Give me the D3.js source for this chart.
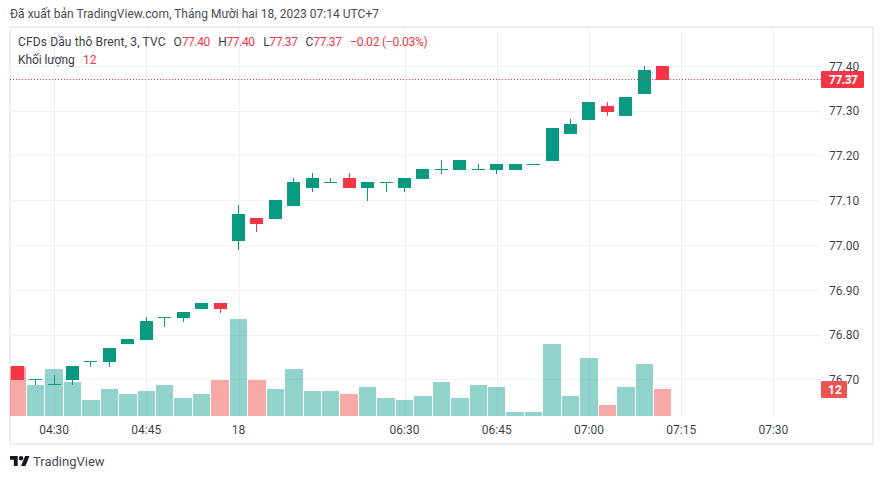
<!DOCTYPE html>
<html><head><meta charset="utf-8">
<script src="https://cdn.jsdelivr.net/npm/d3@7/dist/d3.min.js"></script>
<style>html,body{margin:0;padding:0;background:#fff}svg{display:block}text{font-family:Roboto,sans-serif;font-size:12px}</style>
</head><body><svg id="c" width="883" height="479"></svg>
<script>
const opens  = [76.73,76.70,76.69,76.70,76.74,76.74,76.78,76.79,76.84,76.84,76.86,76.87,77.01,77.06,77.06,77.09,77.13,77.14,77.15,77.13,77.14,77.13,77.15,77.17,77.17,77.17,77.17,77.17,77.18,77.19,77.25,77.28,77.31,77.29,77.34,77.40];
const highs  = [76.73,76.70,76.71,76.73,76.74,76.77,76.79,76.84,76.84,76.85,76.87,76.87,77.09,77.06,77.10,77.15,77.16,77.15,77.16,77.14,77.14,77.15,77.17,77.19,77.19,77.18,77.18,77.18,77.18,77.26,77.28,77.32,77.32,77.33,77.40,77.40];
const lows   = [76.70,76.69,76.69,76.69,76.73,76.73,76.78,76.79,76.82,76.83,76.86,76.85,76.99,77.03,77.06,77.09,77.12,77.14,77.13,77.10,77.12,77.12,77.15,77.16,77.17,77.17,77.16,77.17,77.18,77.19,77.25,77.28,77.29,77.29,77.34,77.37];
const closes = [76.70,76.70,76.69,76.73,76.74,76.77,76.79,76.83,76.84,76.85,76.87,76.86,77.07,77.05,77.10,77.14,77.15,77.14,77.13,77.14,77.14,77.15,77.17,77.17,77.19,77.17,77.18,77.18,77.18,77.26,77.27,77.32,77.30,77.33,77.39,77.37];
const volumes = [22,14,21,15,7,12,10,11,14,8,10,16,43,16,12,21,11,11,10,13,8,7,9,15,8,14,13,2,2,32,9,26,5,13,23,12];
const priceTicks = [76.70,76.80,76.90,77.00,77.10,77.20,77.30,77.40];
const timeTickIndex = [2,7,12,21,26,31,36,41];
const timeTickLabels = ["04:30","04:45","18","06:30","06:45","07:00","07:15","07:30"];
const lastPrice = 77.37, lastVolume = 12;
const publishedText = "Đã xuất bản TradingView.com, Tháng Mười hai 18, 2023 07:14 UTC+7";
const titleText = "CFDs Dầu thô Brent, 3, TVC";
const volumeLabel = "Khối lượng";
const ohlcLabels = [["O","77.40",173.5,181.7],["H","77.40",218.3,226.5],["L","77.37",263.3,269.3],["C","77.37",305.5,313.3]];
const changeText = "−0.02 (−0.03%)";

const UP="#089981",DOWN="#f23645",VUP="rgba(38,166,154,.5)",VDOWN="rgba(239,83,80,.5)",GRID="#f0f1f4",FRAME="#eeeff5",TXT="#131722";
const L=10,R=821,T=28,B=416;
const svg=d3.select("#c");
const x=d3.scaleLinear().domain([0,41]).range([17.7,773.9]);
const y=d3.scaleLinear().domain([76.70,77.40]).range([379.8,66.2]);
const v=d3.scaleLinear().domain([0,43]).range([416,319.25]);

svg.append("rect").attr("x",10).attr("y",27).attr("width",863).attr("height",417).attr("fill","none").attr("stroke",FRAME).attr("stroke-width",2);

const pane=svg.append("g").attr("shape-rendering","crispEdges");
pane.append("g").selectAll("line").data(priceTicks).join("line")
 .attr("x1",L).attr("x2",R).attr("y1",d=>Math.floor(y(d))+.5).attr("y2",d=>Math.floor(y(d))+.5).attr("stroke",GRID);
pane.append("g").selectAll("line").data(timeTickIndex).join("line")
 .attr("x1",d=>Math.floor(x(d))+.5).attr("x2",d=>Math.floor(x(d))+.5).attr("y1",T).attr("y2",B).attr("stroke",GRID);

const idx=d3.range(opens.length);
pane.append("g").selectAll("rect").data(idx).join("rect")
 .attr("x",i=>Math.max(L,Math.round(x(i)-9.2)))
 .attr("width",i=>Math.round(x(i)+9.2)-1-Math.max(L,Math.round(x(i)-9.2)))
 .attr("y",i=>Math.round(v(volumes[i])))
 .attr("height",i=>B-Math.round(v(volumes[i])))
 .attr("fill",i=>closes[i]>=opens[i]?VUP:VDOWN);

const col=i=>closes[i]>=opens[i]?UP:DOWN;
const bl=i=>Math.floor(x(i)-6.5);
pane.append("g").selectAll("rect").data(idx).join("rect")
 .attr("x",i=>bl(i)+6).attr("width",1)
 .attr("y",i=>Math.floor(y(highs[i]))).attr("height",i=>Math.max(1,Math.ceil(y(lows[i]))-Math.floor(y(highs[i]))))
 .attr("fill",col);
pane.append("g").selectAll("rect").data(idx).join("rect")
 .attr("x",bl).attr("width",13)
 .attr("y",i=>Math.floor(y(Math.max(opens[i],closes[i]))))
 .attr("height",i=>opens[i]===closes[i]?1:Math.ceil(y(Math.min(opens[i],closes[i])))-Math.floor(y(Math.max(opens[i],closes[i]))))
 .attr("fill",col);

const ly=Math.floor(y(lastPrice))+.5;
pane.append("line").attr("x1",L).attr("x2",R).attr("y1",ly).attr("y2",ly).attr("stroke",DOWN).attr("stroke-dasharray","1 2");

// axes
const yAxis=d3.axisRight(y).tickValues(priceTicks).tickFormat(d3.format(".2f")).tickSize(0).tickPadding(8);
const ga=svg.append("g").attr("transform",`translate(${R},0)`).call(yAxis);
ga.select(".domain").remove();
ga.selectAll("text").attr("fill",TXT).style("font-size","12px").attr("fill-opacity",.85);
const xAxis=d3.axisBottom(x).tickValues(timeTickIndex).tickFormat((d,i)=>timeTickLabels[i]).tickSize(0).tickPadding(9);
const gx=svg.append("g").attr("transform",`translate(-1,${B})`).call(xAxis);
gx.select(".domain").remove();
gx.selectAll("text").attr("fill",TXT).style("font-size","12px").attr("fill-opacity",.85);

// badges
svg.append("rect").attr("x",R).attr("y",71).attr("width",43).attr("height",17).attr("rx",1).attr("fill",DOWN);
svg.append("text").attr("x",829).attr("y",84).attr("textLength",29).attr("fill","#fff").attr("font-weight",700).text(lastPrice.toFixed(2));
const vy=Math.round(v(lastVolume));
svg.append("rect").attr("x",R).attr("y",vy-8).attr("width",26).attr("height",17).attr("rx",1).attr("fill","#ef5350");
svg.append("text").attr("x",R+14).attr("y",vy+5).attr("text-anchor","middle").attr("fill","#fff").attr("font-weight",700).text(lastVolume);

// header + legend
const t=(s,px,py,c)=>svg.append("text").attr("x",px).attr("y",py).attr("fill",c).text(s);
t(publishedText,10,18,"#4a4a55").attr("textLength",369);
t(titleText,18,46,"#3a3e4a").attr("textLength",147.5);
ohlcLabels.forEach(d=>{t(d[0],d[2],46,"#3a3e4a");t(d[1],d[3],46,DOWN).attr("textLength",28.6);});
t(changeText,350,46,DOWN).attr("textLength",77.7);
t(volumeLabel,18,64,"#3a3e4a").attr("textLength",56.7);
t(lastVolume,83,64,DOWN);

// logo
const logo=svg.append("g").attr("transform","translate(10,453.8) scale(.55)").attr("fill","#131722");
logo.append("path").attr("d","M14 22H7V11H0V4h14v18zM28 22h-8l7.5-18h8L28 22z");
logo.append("circle").attr("cx",20).attr("cy",8).attr("r",4);
t("TradingView",33,466,"#4a4a55").style("font-size","13px");
</script></body></html>
